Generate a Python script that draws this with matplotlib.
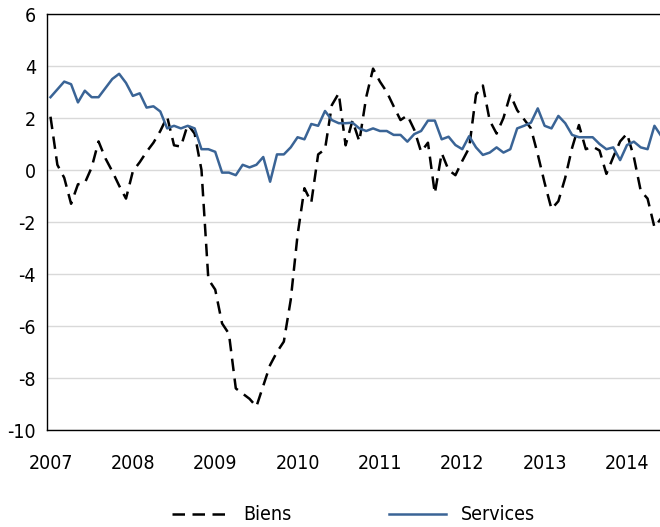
import matplotlib
matplotlib.use('Agg')
import matplotlib.pyplot as plt
import numpy as np

# monthly data, Jan 2007 - Jun 2014
years = ['2007', '2008', '2009', '2010', '2011', '2012', '2013', '2014']

biens = [2.05, 0.2, -0.3, -1.3, -0.55, -0.5, 0.1, 1.1, 0.45, -0.05, -0.6, -1.1,
         -0.05, 0.3, 0.7, 1.05, 1.5, 2.05, 0.95, 0.9, 1.75, 1.4, 0.0, -4.2,
         -4.6, -5.9, -6.3, -8.4, -8.6, -8.8, -9.1, -8.3, -7.5, -7.0, -6.6, -5.0,
         -2.5, -0.7, -1.25, 0.6, 0.8, 2.5, 2.95, 0.95, 1.9, 1.1, 2.8, 3.9,
         3.4, 3.0, 2.45, 1.92, 2.1, 1.55, 0.7, 1.05, -0.9, 0.65, 0.0, -0.2,
         0.35, 0.85, 2.9, 3.25, 1.9, 1.4, 2.0, 2.9, 2.3, 1.95, 1.6, 0.6,
         -0.5, -1.5, -1.2, -0.3, 0.85, 1.73, 0.8, 0.9, 0.75, -0.15, 0.5, 1.1,
         1.4, 0.5, -0.8, -1.1, -2.2, -1.85]

services = [2.8, 3.1, 3.4, 3.3, 2.6, 3.05, 2.8, 2.8, 3.15, 3.5, 3.7, 3.35,
            2.85, 2.95, 2.4, 2.45, 2.25, 1.6, 1.7, 1.6, 1.7, 1.6, 0.8, 0.8,
            0.7, -0.1, -0.1, -0.2, 0.2, 0.1, 0.2, 0.5, -0.45, 0.6, 0.6, 0.87,
            1.26, 1.18, 1.77, 1.7, 2.27, 1.92, 1.8, 1.8, 1.82, 1.6, 1.5, 1.6,
            1.5, 1.5, 1.35, 1.35, 1.09, 1.38, 1.5, 1.9, 1.9, 1.18, 1.28, 0.96,
            0.8, 1.3, 0.87, 0.58, 0.67, 0.87, 0.67, 0.8, 1.6, 1.7, 1.82, 2.37,
            1.7, 1.6, 2.08, 1.8, 1.35, 1.26, 1.26, 1.26, 1.0, 0.8, 0.87, 0.38,
            0.96, 1.09, 0.87, 0.8, 1.7, 1.3]

months = np.arange(len(biens))

plt.rcParams['font.family'] = ['DejaVu Sans']
plt.rcParams['font.stretch'] = 'condensed'
plt.rcParams['axes.unicode_minus'] = False

fig = plt.figure(figsize=(6.6, 5.27), dpi=100)
ax = fig.add_axes([47 / 660, 1 - 430 / 527, 613 / 660, 416 / 527])

ax.plot(months, biens, color='black', lw=1.8, dashes=(5, 3), label='Biens')
ax.plot(months, services, color='#3a6496', lw=1.8, label='Services')

ax.set_xlim(-0.51, 88.81)
ax.set_ylim(-10, 6)
ax.set_yticks(range(-10, 7, 2))
ax.set_xticks(np.arange(0, 90, 12))
ax.set_xticklabels(years)

ax.grid(axis='y', color='#d9d9d9', lw=1.0)
ax.set_axisbelow(True)
ax.tick_params(length=0, labelsize=14)
ax.tick_params(axis='x', pad=17)
ax.tick_params(axis='y', pad=8)

ax.spines['right'].set_visible(False)
for s in ['left', 'top', 'bottom']:
    ax.spines[s].set_color('black')
    ax.spines[s].set_linewidth(1.0)

fig.legend(loc='center', bbox_to_anchor=(353.5 / 660, 1 - 515 / 527), ncol=2,
           frameon=False, fontsize=14, handlelength=2.9, handletextpad=0.8,
           columnspacing=5.0)

plt.savefig('out.png', dpi=100)
